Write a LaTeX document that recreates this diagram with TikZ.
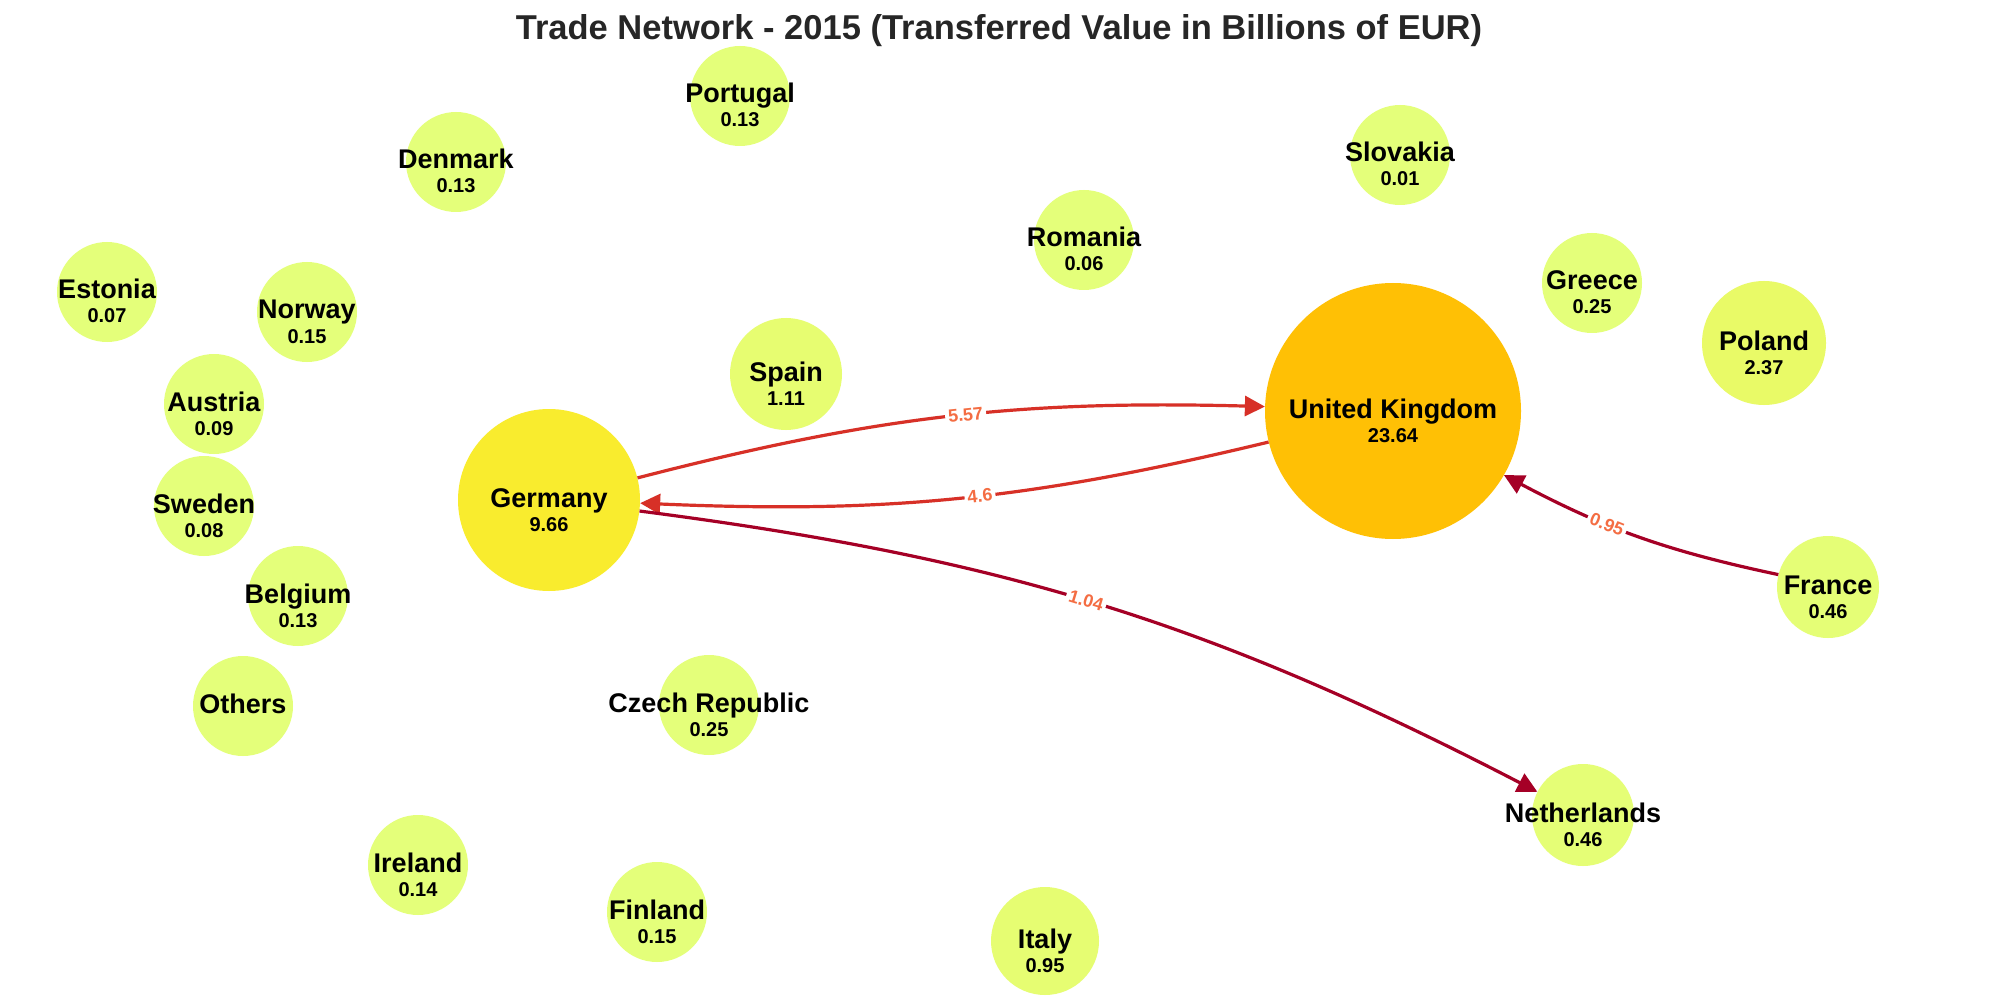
\documentclass[tikz,border=0pt]{standalone}
\usepackage{fontspec}
\setmainfont{Liberation Sans}
\usetikzlibrary{arrows.meta}
\definecolor{c0}{HTML}{E4FF7A}
\definecolor{c1}{RGB}{229,254,118}
\definecolor{citaly}{RGB}{230,253,114}
\definecolor{cspain}{RGB}{231,253,113}
\definecolor{cpoland}{RGB}{233,250,103}
\definecolor{cger}{RGB}{249,236,46}
\definecolor{cuk}{RGB}{255,192,5}
\definecolor{ered}{HTML}{D73027}
\definecolor{edark}{HTML}{A50026}
\definecolor{elab}{HTML}{F46D43}
\definecolor{ttl}{HTML}{262626}
\tikzset{
  cty/.style={circle, inner sep=0pt, draw=none},
  nm/.style={font=\fontsize{27}{30}\selectfont\bfseries, text=black, inner sep=0pt, anchor=base},
  vl/.style={font=\fontsize{20}{22}\selectfont\bfseries, text=black, inner sep=0pt, anchor=base},
  edge1/.style={line width=3.2pt, draw=ered, -{Triangle[length=20pt,width=20pt]}},
  edge2/.style={line width=3.2pt, draw=edark, -{Triangle[length=20pt,width=20pt]}},
  elbl/.style={font=\fontsize{18}{20}\selectfont\bfseries, text=elab, fill=white, inner sep=3pt, sloped},
  title/.style={font=\fontsize{34.5}{38}\selectfont\bfseries, text=ttl}
}
\newcommand\country[7]{%
  \node[cty, minimum size=#4pt, fill=#5] (#1) at (#2,#3) {};
  \node[nm] (#1n) at ([yshift=-7pt]#1.center) {#6};
  \node[vl] (#1v) at ([yshift=-31pt]#1.center) {#7};
}
\begin{document}
\begin{tikzpicture}[x=1pt,y=-1pt]
\useasboundingbox (0,0) rectangle (2000,1000);
\clip (0,0) rectangle (2000,1000);
\fill[white] (0,0) rectangle (2000,1000);

\country{pt}{740}{96}{100}{c0}{Portugal}{0.13}
\country{dk}{456}{162}{100}{c0}{Denmark}{0.13}
\country{sk}{1400}{155}{100}{c0}{Slovakia}{0.01}
\country{ro}{1084}{240}{100}{c0}{Romania}{0.06}
\country{ee}{107}{292}{100}{c0}{Estonia}{0.07}
\country{no}{307}{312}{100}{c0}{Norway}{0.15}
\country{gr}{1592}{283}{100}{c0}{Greece}{0.25}
\country{pl}{1764}{343}{124}{cpoland}{Poland}{2.37}
\country{at}{214}{404}{100}{c0}{Austria}{0.09}
\country{es}{786}{374}{112}{cspain}{Spain}{1.11}
\country{uk}{1393}{411}{256}{cuk}{United Kingdom}{23.64}
\country{de}{549}{500}{182}{cger}{Germany}{9.66}
\country{se}{204}{506}{100}{c0}{Sweden}{0.08}
\country{be}{298}{596}{100}{c0}{Belgium}{0.13}
\country{fr}{1828}{587}{102}{c1}{France}{0.46}
\country{cz}{709}{705}{100}{c0}{Czech Republic}{0.25}
\country{nl}{1583}{815}{102}{c1}{Netherlands}{0.46}
\country{ie}{418}{865}{100}{c0}{Ireland}{0.14}
\country{fi}{657}{912}{100}{c0}{Finland}{0.15}
\country{it}{1045}{941}{108}{citaly}{Italy}{0.95}
\node[cty, minimum size=100pt, fill=c0] (ot) at (243,706) {};
\node[nm] (otn) at ([yshift=-7pt]ot.center) {Others};

\draw[edge1] (de) to[bend left=8] node[elbl, pos=0.53] {5.57} (uk);
\draw[edge1] (uk) to[bend left=8] node[elbl, pos=0.46] {4.6} (de);
\draw[edge2] (de) to[bend left=10] node[elbl, pos=0.48] {1.04} (nl);
\draw[edge2] (fr) to[bend left=8] node[elbl, pos=0.62] {0.95} (uk);

\node[title] (t) at (999,31) {Trade Network - 2015 (Transferred Value in Billions of EUR)};
\end{tikzpicture}
\end{document}
